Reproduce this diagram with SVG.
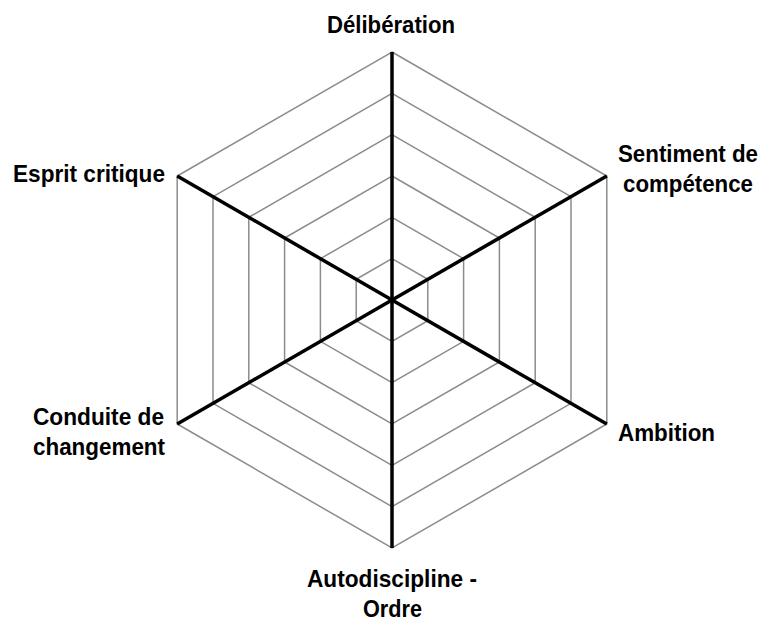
<svg xmlns="http://www.w3.org/2000/svg" width="765" height="625" viewBox="0 0 765 625">
<style>
.grid{fill:none;stroke:#8c8c8c;stroke-width:1.5}
.axis{stroke:#000;stroke-width:3.5;stroke-linecap:butt}
.lbl{font-family:"Liberation Sans",Arial,sans-serif;font-weight:bold;font-size:24.5px;fill:#000}
</style>
<rect width="765" height="625" fill="#fff"/>
<g id="grid">
<polygon class="grid" points="392,258.7 427.8,279.3 427.8,320.7 392,341.3 356.2,320.7 356.2,279.3"/>
<polygon class="grid" points="392,217.3 463.6,258.7 463.6,341.3 392,382.7 320.4,341.3 320.4,258.7"/>
<polygon class="grid" points="392,176 499.4,238 499.4,362 392,424 284.6,362 284.6,238"/>
<polygon class="grid" points="392,134.7 535.2,217.3 535.2,382.7 392,465.3 248.8,382.7 248.8,217.3"/>
<polygon class="grid" points="392,93.3 571,196.7 571,403.3 392,506.7 213,403.3 213,196.7"/>
<polygon class="grid" points="392,52 606.8,176 606.8,424 392,548 177.2,424 177.2,176"/>
</g>
<g id="axes">
<line class="axis" x1="392" y1="300" x2="392" y2="52"/>
<line class="axis" x1="392" y1="300" x2="606.8" y2="176"/>
<line class="axis" x1="392" y1="300" x2="606.8" y2="424"/>
<line class="axis" x1="392" y1="300" x2="392" y2="548"/>
<line class="axis" x1="392" y1="300" x2="177.2" y2="424"/>
<line class="axis" x1="392" y1="300" x2="177.2" y2="176"/>
</g>
<g id="label-deliberation"><text class="lbl" x="327" y="33" textLength="128" lengthAdjust="spacingAndGlyphs">Délibération</text></g>
<g id="label-sentiment"><text class="lbl" x="618" y="162" textLength="140" lengthAdjust="spacingAndGlyphs">Sentiment de</text><text class="lbl" x="623" y="192" textLength="130" lengthAdjust="spacingAndGlyphs">compétence</text></g>
<g id="label-ambition"><text class="lbl" x="618" y="441" textLength="97" lengthAdjust="spacingAndGlyphs">Ambition</text></g>
<g id="label-autodiscipline"><text class="lbl" x="307" y="587" textLength="170" lengthAdjust="spacingAndGlyphs">Autodiscipline -</text><text class="lbl" x="363" y="617" textLength="59" lengthAdjust="spacingAndGlyphs">Ordre</text></g>
<g id="label-conduite"><text class="lbl" x="33" y="425" textLength="131" lengthAdjust="spacingAndGlyphs">Conduite de</text><text class="lbl" x="33" y="455" textLength="132" lengthAdjust="spacingAndGlyphs">changement</text></g>
<g id="label-esprit"><text class="lbl" x="13" y="182" textLength="152" lengthAdjust="spacingAndGlyphs">Esprit critique</text></g>
</svg>
